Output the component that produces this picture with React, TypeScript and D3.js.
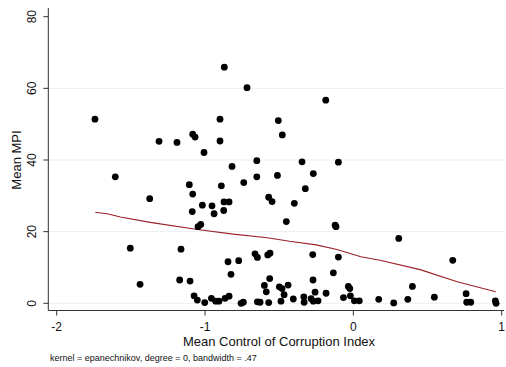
import React, { useEffect, useRef } from "react";
import * as d3 from "d3";

// scatter: mean control of corruption index vs mean MPI
const corruption = [
  -1.742, -1.605, -1.31, -1.189, -1.083, -1.067, -1.007, -0.899, -0.899, -0.87,
  -0.818, -0.717, -0.651, -0.651, -0.186, -0.506, -0.479, -0.346, -0.101, -0.512,
  -0.27, -0.89, -0.739, -0.324, -0.571, -0.548, -0.398, -1.018, -0.953, -0.939,
  -0.872, -0.838, -0.874, -1.029, -1.047, -0.452, -0.123, -0.117, -1.373, -1.106,
  -1.083, -1.086, -1.504, -1.162, -1.438, -1.171, -1.101, -1.074, -1.052, 0.306,
  0.67, -0.845, -0.773, -0.825, -0.663, -0.647, -0.577, -0.562, -0.274, -0.101,
  -0.135, -0.564, -0.272, -0.6, -0.499, -0.481, -0.44, -0.587, -0.467, -0.258,
  -0.184, -0.034, -0.024, -0.067, -0.02, -1.002, -0.957, -0.928, -0.906, -0.865,
  -0.838, -0.757, -0.742, -0.647, -0.629, -0.571, -0.488, -0.405, -0.334, -0.332,
  -0.285, -0.27, -0.238, 0.007, 0.04, 0.398, 0.546, 0.76, 0.764, 0.791,
  0.957, 0.962, 0.171, 0.272, 0.367,
];
const mpi = [
  51.4, 35.3, 45.2, 44.9, 47.2, 46.4, 42.1, 51.4, 45.3, 65.9,
  38.2, 60.2, 39.8, 35.3, 56.7, 51.0, 47.0, 39.5, 39.4, 35.7,
  36.2, 32.8, 33.7, 32.0, 29.6, 28.4, 27.9, 27.4, 27.2, 25.0,
  28.3, 28.3, 25.9, 22.0, 21.4, 22.8, 21.8, 21.4, 29.2, 33.1,
  30.5, 25.6, 15.4, 15.1, 5.3, 6.5, 6.2, 2.1, 0.9, 18.1,
  12.0, 11.6, 11.9, 8.1, 13.8, 12.8, 13.5, 14.0, 13.6, 12.9,
  8.5, 6.9, 6.5, 5.0, 4.6, 4.1, 5.1, 3.2, 2.4, 3.1,
  2.8, 4.7, 4.1, 1.6, 2.1, 0.2, 1.4, 0.6, 0.6, 1.4,
  2.0, 0.0, 0.3, 0.4, 0.3, 0.2, 0.6, 1.2, 1.8, 0.3,
  1.3, 0.6, 0.7, 0.7, 0.7, 4.7, 1.7, 2.7, 0.3, 0.3,
  0.7, 0.0, 1.1, 0.1, 1.1,
];

// local polynomial smooth
const smoothX = [-1.74, -1.66, -1.57, -1.37, -1.05, -0.81, -0.58, -0.43, -0.25, -0.11, 0.05, 0.18, 0.45, 0.7, 0.96];
const smoothY = [25.4, 25.0, 24.1, 22.6, 20.6, 19.3, 18.3, 17.3, 16.3, 15.0, 13.0, 12.0, 9.4, 6.0, 3.2];

const xTicks = [-2, -1, 0, 1];
const yTicks = [0, 20, 40, 60, 80];
const yGrid = [0, 20, 40, 60];

const X_TITLE = "Mean Control of Corruption Index";
const Y_TITLE = "Mean MPI";
const NOTE = "kernel = epanechnikov, degree = 0, bandwidth = .47";

const W = 506;
const H = 367;
const FONT = "'Liberation Sans', Arial, Helvetica, sans-serif";

export default function App() {
  const svgRef = useRef<SVGSVGElement | null>(null);

  useEffect(() => {
    const svg = d3.select(svgRef.current);
    svg.selectAll("*").remove();

    const x = d3.scaleLinear().domain([-2, 1]).range([56.7, 501.7]);
    const y = d3.scaleLinear().domain([0, 80]).range([303.3, 16.7]);

    const axisLeft = 48.3;
    const axisBottom = 310.5;
    const plotRight = 504;

    // gridlines
    svg.append("g")
      .selectAll("line")
      .data(yGrid)
      .join("line")
      .attr("x1", axisLeft)
      .attr("x2", plotRight)
      .attr("y1", d => y(d))
      .attr("y2", d => y(d))
      .attr("stroke", "#e8f0f2")
      .attr("stroke-width", 1);

    // smooth line
    const line = d3.line<number>()
      .x((d, i) => x(smoothX[i]))
      .y(d => y(d));
    svg.append("path")
      .datum(smoothY)
      .attr("d", line)
      .attr("fill", "none")
      .attr("stroke", "#9a2128")
      .attr("stroke-width", 1.1);

    // dots
    svg.append("g")
      .selectAll("circle")
      .data(mpi)
      .join("circle")
      .attr("cx", (d, i) => x(corruption[i]))
      .attr("cy", d => y(d))
      .attr("r", 3.4)
      .attr("fill", "#000");

    // axes
    svg.append("line")
      .attr("x1", axisLeft).attr("x2", axisLeft)
      .attr("y1", 8).attr("y2", axisBottom)
      .attr("stroke", "#333").attr("stroke-width", 1);
    svg.append("line")
      .attr("x1", axisLeft).attr("x2", plotRight)
      .attr("y1", axisBottom).attr("y2", axisBottom)
      .attr("stroke", "#333").attr("stroke-width", 1);

    xTicks.forEach(t => {
      svg.append("line")
        .attr("x1", x(t)).attr("x2", x(t))
        .attr("y1", axisBottom).attr("y2", axisBottom + 5)
        .attr("stroke", "#333");
      svg.append("text")
        .attr("x", x(t))
        .attr("y", 331)
        .attr("text-anchor", "middle")
        .style("font-family", FONT)
        .style("font-size", "12px")
        .style("fill", "#111")
        .text(t);
    });

    yTicks.forEach(t => {
      svg.append("line")
        .attr("x1", axisLeft - 5).attr("x2", axisLeft)
        .attr("y1", y(t)).attr("y2", y(t))
        .attr("stroke", "#333");
      svg.append("text")
        .attr("transform", `translate(36,${y(t)}) rotate(-90)`)
        .attr("text-anchor", "middle")
        .style("font-family", FONT)
        .style("font-size", "12px")
        .style("fill", "#111")
        .text(t);
    });

    // titles
    svg.append("text")
      .attr("x", 279)
      .attr("y", 346)
      .attr("text-anchor", "middle")
      .style("font-family", FONT)
      .style("font-size", "13px")
      .style("fill", "#111")
      .text(X_TITLE);

    svg.append("text")
      .attr("transform", `translate(21,160) rotate(-90)`)
      .attr("text-anchor", "middle")
      .style("font-family", FONT)
      .style("font-size", "13px")
      .style("fill", "#111")
      .text(Y_TITLE);

    svg.append("text")
      .attr("x", 50)
      .attr("y", 361)
      .style("font-family", FONT)
      .style("font-size", "9px")
      .style("fill", "#111")
      .text(NOTE);
  }, []);

  return (
    <svg
      ref={svgRef}
      width={W}
      height={H}
      style={{ position: "absolute", left: 0, top: 0, background: "#fff" }}
    />
  );
}
